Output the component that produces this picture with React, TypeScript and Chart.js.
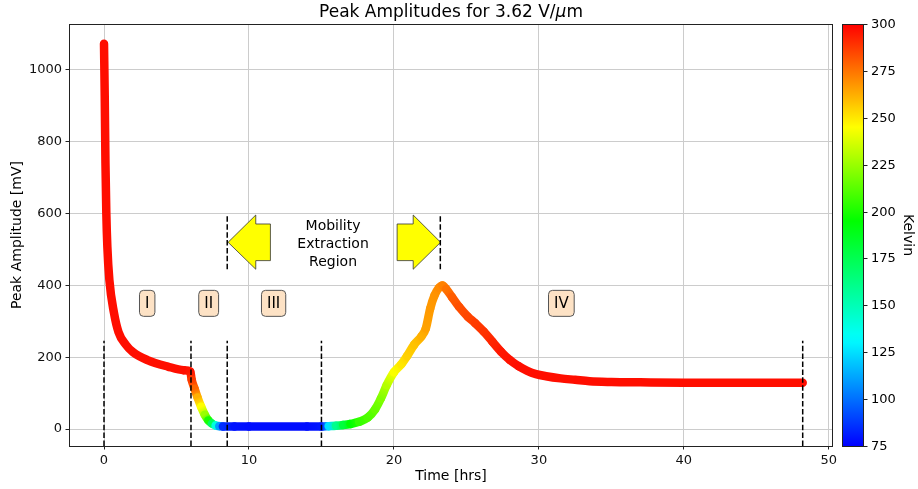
import React, { useEffect, useRef } from "react";
import { Chart, registerables } from "chart.js";

Chart.register(...registerables);

// ---- data ----
const timeHrs = [
  0, 0.05, 0.1, 0.16, 0.23, 0.37, 0.69, 1.0, 1.5, 2.0, 3.0, 4.4, 5.5, 5.95,
  6.05, 6.25, 6.45, 6.7, 6.95, 7.2, 7.45, 7.7, 7.95, 8.2, 9, 10, 11, 12, 13, 14, 15,
  15.5, 16, 16.5, 17, 17.6, 18.2, 18.7, 19.1, 19.5, 20.0, 20.5, 20.9, 21.4, 21.9,
  22.2, 22.5, 22.8, 23.1, 23.35, 23.6, 24.0, 24.5, 25.1, 25.6, 26.2, 26.8, 27.4,
  28.0, 28.6, 29.2, 29.8, 30.5, 31.5, 32.5, 33.5, 35, 37, 40, 43, 46, 48.2,
];
const amplitudeMv = [
  1073, 926, 740, 601, 508, 415, 323, 270, 235, 214, 192, 174, 164, 160,
  137, 112, 88, 62, 40, 24, 15, 10, 8, 7, 7, 7, 7, 7, 7, 7, 7,
  8, 9, 11, 14, 20, 32, 55, 85, 122, 158, 180, 203, 235, 258,
  280, 335, 372, 393, 400, 390, 368, 340, 313, 295, 271, 243, 215,
  192, 175, 162, 153, 147, 141, 137, 133, 131, 130, 129, 129, 129, 129,
];
const temperatureK = [
  297, 297, 297, 297, 297, 297, 297, 297, 297, 297, 297, 297, 297, 296,
  288, 278, 262, 245, 225, 200, 172, 140, 110, 85, 79, 78, 78, 78, 78, 78, 80,
  125, 160, 180, 195, 205, 210, 215, 220, 230, 244, 250, 255, 258, 262,
  265, 267, 268, 270, 272, 275, 280, 283, 285, 287, 289, 292, 295,
  296, 297, 297, 297, 297, 297, 297, 297, 297, 297, 297, 297, 297, 297,
];

const lowerMarkersHrs = [0, 6, 8.5, 15, 48.2];
const lowerMarkerSpanMv = [-47.3, 246];
const upperMarkersHrs = [8.5, 23.2];
const upperMarkerSpanMv = [445, 596];

const regionLabels = ["I", "II", "III", "IV"];
const regionLabelHrs = [2.98, 7.22, 11.7, 31.55];
const regionLabelMv = 350;

const leftArrowHrs = [8.56, 10.47, 10.47, 11.48, 11.48, 10.47, 10.47];
const leftArrowMv = [520, 596, 571, 571, 469, 469, 445];
const rightArrowHrs = [20.22, 21.33, 21.33, 23.22, 21.33, 21.33, 20.22];
const rightArrowMv = [571, 571, 596, 520, 445, 469, 469];
const mobilityText = ["Mobility", "Extraction", "Region"];
const mobilityTextAt = [15.8, 513];

const xTickValues = [0, 10, 20, 30, 40, 50];
const yTickValues = [0, 200, 400, 600, 800, 1000];
const kelvinTicks = [75, 100, 125, 150, 175, 200, 225, 250, 275, 300];
const kelvinRange = [75, 300];

// colormap stops (K -> rgb)
const cmapK = [75, 132, 195, 245, 300];
const cmapRGB = [
  [0, 0, 255],
  [0, 255, 255],
  [0, 255, 0],
  [255, 255, 0],
  [255, 0, 0],
];

function tempColor(T: number): string {
  const t = Math.max(cmapK[0], Math.min(cmapK[cmapK.length - 1], T));
  for (let i = 0; i < cmapK.length - 1; i++) {
    if (t <= cmapK[i + 1]) {
      const f = (t - cmapK[i]) / (cmapK[i + 1] - cmapK[i]);
      const a = cmapRGB[i];
      const b = cmapRGB[i + 1];
      const c = a.map((v, k) => Math.round(v + (b[k] - v) * f));
      return `rgb(${c[0]},${c[1]},${c[2]})`;
    }
  }
  return "rgb(255,0,0)";
}

const FONT = "'DejaVu Sans', sans-serif";

export default function App() {
  const canvasRef = useRef<HTMLCanvasElement | null>(null);

  useEffect(() => {
    const canvas = canvasRef.current!;
    const ctx2d = canvas.getContext("2d")!;

    const decor = {
      id: "decor",
      beforeDatasetsDraw(chart: any) {
        const ctx = chart.ctx;
        const xs = chart.scales.x;
        const ys = chart.scales.y;
        const drawPoly = (hx: number[], my: number[]) => {
          ctx.save();
          ctx.beginPath();
          hx.forEach((h, i) => {
            const px = xs.getPixelForValue(h);
            const py = ys.getPixelForValue(my[i]);
            if (i === 0) ctx.moveTo(px, py);
            else ctx.lineTo(px, py);
          });
          ctx.closePath();
          ctx.fillStyle = "#ffff00";
          ctx.fill();
          ctx.lineWidth = 0.8;
          ctx.strokeStyle = "#333";
          ctx.stroke();
          ctx.restore();
        };
        drawPoly(leftArrowHrs, leftArrowMv);
        drawPoly(rightArrowHrs, rightArrowMv);
      },
      afterDraw(chart: any) {
        const ctx = chart.ctx;
        const area = chart.chartArea;
        const xs = chart.scales.x;
        const ys = chart.scales.y;
        ctx.save();
        // frame
        ctx.strokeStyle = "#222";
        ctx.lineWidth = 1;
        ctx.strokeRect(area.left + 0.5, area.top + 0.5, area.right - area.left - 1, area.bottom - area.top);

        // title
        ctx.fillStyle = "#000";
        ctx.textBaseline = "middle";
        const cx = (area.left + area.right) / 2;
        const tA = "Peak Amplitudes for 3.62 V/";
        const tB = "\u03bc";
        const tC = "m";
        ctx.font = `17px ${FONT}`;
        const wA = ctx.measureText(tA).width;
        const wC = ctx.measureText(tC).width;
        ctx.font = `italic 17px ${FONT}`;
        const wB = ctx.measureText(tB).width;
        const x0 = cx - (wA + wB + wC) / 2;
        ctx.textAlign = "left";
        ctx.font = `17px ${FONT}`;
        ctx.fillText(tA, x0, 13);
        ctx.font = `italic 17px ${FONT}`;
        ctx.fillText(tB, x0 + wA, 13);
        ctx.font = `17px ${FONT}`;
        ctx.fillText(tC, x0 + wA + wB, 13);

        // axis titles
        ctx.font = `14px ${FONT}`;
        ctx.textAlign = "center";
        ctx.fillText("Time [hrs]", cx, 476);
        ctx.save();
        ctx.translate(17, (area.top + area.bottom) / 2);
        ctx.rotate(-Math.PI / 2);
        ctx.fillText("Peak Amplitude [mV]", 0, 0);
        ctx.restore();

        // mobility text
        const mx = xs.getPixelForValue(mobilityTextAt[0]);
        const my = ys.getPixelForValue(mobilityTextAt[1]);
        ctx.font = `14px ${FONT}`;
        mobilityText.forEach((s, i) => {
          ctx.fillText(s, mx, my + (i - 1) * 18);
        });

        // region boxes
        ctx.font = `15px ${FONT}`;
        regionLabels.forEach((lab, i) => {
          const px = xs.getPixelForValue(regionLabelHrs[i]);
          const py = ys.getPixelForValue(regionLabelMv);
          const w = ctx.measureText(lab).width + 11;
          const h = 26;
          ctx.beginPath();
          ctx.roundRect(px - w / 2, py - h / 2, w, h, 4);
          ctx.fillStyle = "#fde2c5";
          ctx.fill();
          ctx.strokeStyle = "#555";
          ctx.lineWidth = 1;
          ctx.stroke();
          ctx.fillStyle = "#000";
          ctx.fillText(lab, px, py + 1);
        });

        // colorbar
        const cbL = 842;
        const cbR = 864;
        const cbT = area.top;
        const cbB = area.bottom;
        const kToY = (k: number) => cbB - ((k - kelvinRange[0]) / (kelvinRange[1] - kelvinRange[0])) * (cbB - cbT);
        const grad = ctx.createLinearGradient(0, cbB, 0, cbT);
        for (let k = kelvinRange[0]; k <= kelvinRange[1]; k += 5) {
          grad.addColorStop((k - kelvinRange[0]) / (kelvinRange[1] - kelvinRange[0]), tempColor(k));
        }
        ctx.fillStyle = grad;
        ctx.fillRect(cbL, cbT, cbR - cbL, cbB - cbT);
        ctx.strokeStyle = "#222";
        ctx.lineWidth = 1;
        ctx.strokeRect(cbL + 0.5, cbT + 0.5, cbR - cbL - 1, cbB - cbT);
        ctx.fillStyle = "#000";
        ctx.font = `13px ${FONT}`;
        ctx.textAlign = "left";
        ctx.textBaseline = "middle";
        kelvinTicks.forEach((k) => {
          const y = Math.round(kToY(k)) + 0.5;
          ctx.beginPath();
          ctx.moveTo(cbR, y);
          ctx.lineTo(cbR + 3.5, y);
          ctx.stroke();
          ctx.fillText(String(k), cbR + 7, y);
        });
        ctx.save();
        ctx.font = `14px ${FONT}`;
        ctx.textAlign = "center";
        ctx.translate(908, (cbT + cbB) / 2);
        ctx.rotate(Math.PI / 2);
        ctx.fillText("Kelvin", 0, 0);
        ctx.restore();

        ctx.restore();
      },
    };

    const dashed = (x: number, span: number[]) => ({
      type: "line",
      data: [
        { x, y: span[0] },
        { x, y: span[1] },
      ],
      borderColor: "#000",
      borderWidth: 1.5,
      borderDash: [5.5, 2.4],
      pointRadius: 0,
      order: 0,
    });

    const datasets: any[] = [
      ...lowerMarkersHrs.map((x) => dashed(x, lowerMarkerSpanMv)),
      ...upperMarkersHrs.map((x) => dashed(x, upperMarkerSpanMv)),
      {
        type: "line",
        data: timeHrs.map((t, i) => ({ x: t, y: amplitudeMv[i] })),
        borderColor: "#ff0000",
        borderWidth: 8.5,
        borderCapStyle: "round",
        borderJoinStyle: "round",
        cubicInterpolationMode: "monotone",
        pointRadius: 0,
        order: 1,
        segment: {
          borderColor: (c: any) => {
            const t0 = temperatureK[c.p0DataIndex];
            const t1 = temperatureK[c.p1DataIndex];
            if (t0 === t1) return tempColor(t0);
            const g = ctx2d.createLinearGradient(c.p0.x, c.p0.y, c.p1.x, c.p1.y);
            g.addColorStop(0, tempColor(t0));
            g.addColorStop(1, tempColor(t1));
            return g;
          },
        },
      },
    ];

    const tickFont = { family: FONT, size: 13 };
    const chart = new Chart(canvas, {
      type: "line",
      data: { datasets },
      options: {
        responsive: false,
        animation: false,
        devicePixelRatio: 1,
        layout: { padding: { left: 0, top: 24, right: 85, bottom: 0 } },
        plugins: {
          legend: { display: false },
          tooltip: { enabled: false },
          title: { display: false },
        },
        scales: {
          x: {
            type: "linear",
            min: -2.415,
            max: 50.29,
            afterFit: (s: any) => {
              s.height = 43;
            },
            afterBuildTicks: (s: any) => {
              s.ticks = xTickValues.map((v) => ({ value: v }));
            },
            grid: { color: "#cccccc", lineWidth: 1, tickColor: "#222", tickLength: 3.5, tickWidth: 1 },
            border: { display: false },
            ticks: {
              font: tickFont,
              color: "#111",
              padding: 3,
              maxRotation: 0,
              autoSkip: false,
              callback: (v: any) => String(v),
            },
          },
          y: {
            type: "linear",
            min: -47.3,
            max: 1128,
            afterFit: (s: any) => {
              s.width = 69;
            },
            afterBuildTicks: (s: any) => {
              s.ticks = yTickValues.map((v) => ({ value: v }));
            },
            grid: { color: "#cccccc", lineWidth: 1, tickColor: "#222", tickLength: 3.5, tickWidth: 1 },
            border: { display: false },
            ticks: {
              font: tickFont,
              color: "#111",
              padding: 3.5,
              autoSkip: false,
              callback: (v: any) => String(v),
            },
          },
        },
      } as any,
      plugins: [decor],
    } as any);

    return () => chart.destroy();
  }, []);

  return (
    <div style={{ position: "absolute", left: 0, top: 0, width: 918, height: 489, background: "#fff" }}>
      <canvas ref={canvasRef} width={918} height={489} style={{ width: 918, height: 489 }} />
    </div>
  );
}
